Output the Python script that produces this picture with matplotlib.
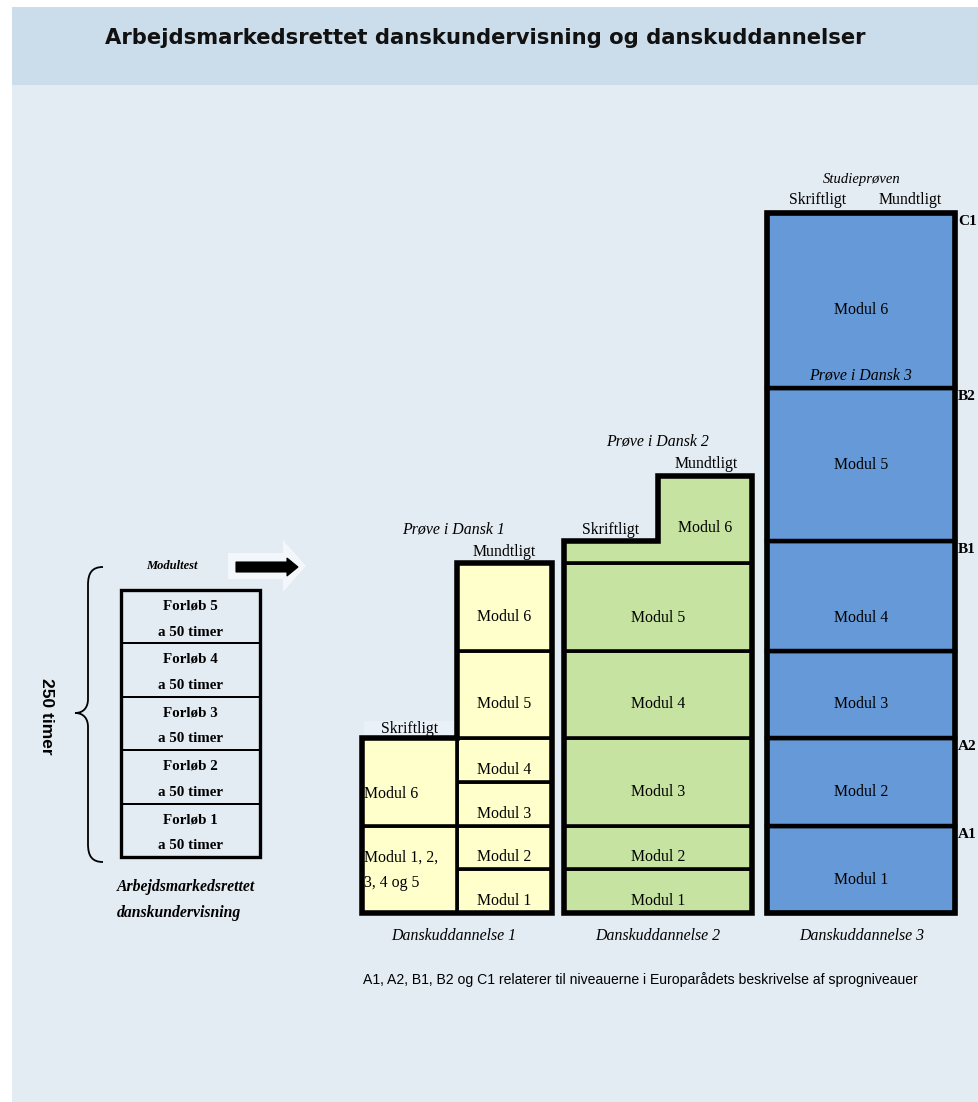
import matplotlib
matplotlib.use("Agg")
import matplotlib.pyplot as plt
from matplotlib.patches import Rectangle, Polygon, PathPatch
from matplotlib.path import Path
import numpy as np

# ---------------- data ----------------
title = "Arbejdsmarkedsrettet danskundervisning og danskuddannelser"

forlob_labels = ["Forløb 1", "Forløb 2", "Forløb 3", "Forløb 4", "Forløb 5"]
forlob_hours = [50, 50, 50, 50, 50]
forlob_total_label = "250 timer"
forlob_caption = "Arbejdsmarkedsrettet\ndanskundervisning"
forlob_test = "Modultest"

du_names = ["Danskuddannelse 1", "Danskuddannelse 2", "Danskuddannelse 3"]

# DU1: oral column (Mundtligt) and written column (Skriftligt), heights in half-module units
du1_oral_modules = ["Modul 1", "Modul 2", "Modul 3", "Modul 4", "Modul 5", "Modul 6"]
du1_oral_units = [1, 1, 1, 1, 2, 2]
du1_written_modules = ["Modul 1, 2,\n3, 4 og 5", "Modul 6"]
du1_written_units = [2, 2]

# DU2
du2_modules = ["Modul 1", "Modul 2", "Modul 3", "Modul 4", "Modul 5"]
du2_units = [1, 1, 2, 2, 2]
du2_m6_label = "Modul 6"
du2_m6_written_units = 0.5
du2_m6_oral_units = 2

# DU3
du3_modules = ["Modul 1", "Modul 2", "Modul 3", "Modul 4", "Modul 5", "Modul 6"]
du3_units = [2, 2, 2, 2.5, 3.5, 4]
cefr_levels = ["A1", "A2", "B1", "B2", "C1"]
cefr_top_of_module = [1, 2, 4, 5, 6]   # level reached at top of DU3 module n

exam_titles = ["Prøve i Dansk 1", "Prøve i Dansk 2", "Studieprøven"]
exam_parts = ["Skriftligt", "Mundtligt"]
du3_m6_exam = "Prøve i Dansk 3"
footnote = "A1, A2, B1, B2 og C1 relaterer til niveauerne i Europarådets beskrivelse af sprogniveauer"

# ---------------- styling / layout ----------------
W, H = 979, 1102
BG_TITLE = "#cbdcea"
BG_BODY = "#e3ebf3"
YELLOW = "#ffffcc"
GREEN = "#c6e3a2"
BLUE = "#6699d8"
SERIF = "Liberation Serif"
SANS = "Liberation Sans"
FS = 11.4

BASE = 913.0     # baseline (pixel y)
UNIT = 43.75     # pixels per half-module unit

fig = plt.figure(figsize=(W / 100, H / 100), dpi=100)
ax = fig.add_axes([0, 0, 1, 1])
ax.set_xlim(0, W)
ax.set_ylim(H, 0)
ax.axis("off")

# backgrounds
ax.add_patch(Rectangle((0, 0), W, H, facecolor="white", edgecolor="none", zorder=0))
ax.add_patch(Rectangle((12, 7), W - 12, 78, facecolor=BG_TITLE, edgecolor="none", zorder=0))
ax.add_patch(Rectangle((12, 85), W - 12, H - 85, facecolor=BG_BODY, edgecolor="none", zorder=0))

ax.text(485, 38, title, ha="center", va="center", fontsize=15.2, fontweight="bold",
        family="DejaVu Sans", color="#111111")


def ypix(u):
    return BASE - u * UNIT


def draw_column(x0, x1, units, labels, color, offsets, u0=0.0, lw=2.6, fs=FS):
    cum = u0
    for u, lab, off in zip(units, labels, offsets):
        top, bot = ypix(cum + u), ypix(cum)
        ax.add_patch(Rectangle((x0, top), x1 - x0, bot - top, facecolor=color,
                               edgecolor="black", lw=lw, zorder=2))
        if lab is not None:
            ax.text((x0 + x1) / 2, (top + bot) / 2 + off, lab, ha="center", va="center",
                    fontsize=fs, family=SERIF, zorder=4)
        cum += u
    return cum


# ---------- Danskuddannelse 1 ----------
d1_l0, d1_mid, d1_r1 = 362, 457, 552
oral_top = draw_column(d1_mid, d1_r1, du1_oral_units, du1_oral_modules, YELLOW,
                       [10, 10, 10, 10, 10, 10])
cum = 0
for u, lab, off in zip(du1_written_units, du1_written_modules, [1, 12]):
    top, bot = ypix(cum + u), ypix(cum)
    ax.add_patch(Rectangle((d1_l0, top), d1_mid - d1_l0, bot - top, facecolor=YELLOW,
                           edgecolor="black", lw=2.6, zorder=2))
    ax.text(d1_l0 + 2, (top + bot) / 2 + off, lab, ha="left", va="center",
            fontsize=FS, family=SERIF, linespacing=1.8, zorder=4)
    cum += u
written_top = cum
# outer outline of DU1
outline1 = [(d1_l0, BASE), (d1_l0, ypix(written_top)), (d1_mid, ypix(written_top)),
            (d1_mid, ypix(oral_top)), (d1_r1, ypix(oral_top)), (d1_r1, BASE)]
ax.add_patch(Polygon(outline1, closed=True, fill=False, edgecolor="black", lw=4, zorder=3))
ax.add_patch(Rectangle((d1_l0 + 2, ypix(written_top) - 17), d1_mid - d1_l0 - 4, 15,
                       facecolor="#eaf0f7", edgecolor="none", zorder=1))
ax.text((d1_l0 + d1_mid) / 2, ypix(written_top) - 9, exam_parts[0], ha="center", va="center",
        fontsize=FS, family=SERIF)
ax.text((d1_mid + d1_r1) / 2, ypix(oral_top) - 11, exam_parts[1], ha="center", va="center",
        fontsize=FS, family=SERIF)
ax.text(454, 529, exam_titles[0], ha="center", va="center", fontsize=FS, style="italic",
        family=SERIF)
ax.text(454, 936, du_names[0], ha="center", va="center", fontsize=FS, style="italic",
        family=SERIF)

# ---------- Danskuddannelse 2 ----------
d2_l, d2_step, d2_r = 564, 658, 752
base_top = draw_column(d2_l, d2_r, du2_units, du2_modules, GREEN, [10, 10, 10, 10, 11])
w_top = ypix(base_top + du2_m6_written_units)
o_top = ypix(base_top + du2_m6_oral_units)
m6_shape = [(d2_l, ypix(base_top)), (d2_l, w_top), (d2_step, w_top), (d2_step, o_top),
            (d2_r, o_top), (d2_r, ypix(base_top))]
ax.add_patch(Polygon(m6_shape, closed=True, facecolor=GREEN, edgecolor="black", lw=2.6, zorder=2))
ax.text((d2_step + d2_r) / 2, (o_top + ypix(base_top)) / 2 + 9, du2_m6_label, ha="center",
        va="center", fontsize=FS, family=SERIF, zorder=4)
outline2 = [(d2_l, BASE), (d2_l, w_top), (d2_step, w_top), (d2_step, o_top), (d2_r, o_top),
            (d2_r, BASE)]
ax.add_patch(Polygon(outline2, closed=True, fill=False, edgecolor="black", lw=4, zorder=3))
ax.text(611, w_top - 11, exam_parts[0], ha="center", va="center", fontsize=FS, family=SERIF)
ax.text(706, o_top - 11, exam_parts[1], ha="center", va="center", fontsize=FS, family=SERIF)
ax.text(658, 442, exam_titles[1], ha="center", va="center", fontsize=FS, style="italic",
        family=SERIF)
ax.text(658, 936, du_names[1], ha="center", va="center", fontsize=FS, style="italic",
        family=SERIF)

# ---------- Danskuddannelse 3 ----------
d3_l, d3_r = 767, 955
d3_top = draw_column(d3_l, d3_r, du3_units, du3_modules, BLUE, [11, 10, 10, 22, 0, 10],
                     lw=3.2)
ax.add_patch(Rectangle((d3_l, ypix(d3_top)), d3_r - d3_l, BASE - ypix(d3_top), fill=False,
                       edgecolor="black", lw=4, zorder=3))
cum_units = np.cumsum(du3_units)
for lev, m in zip(cefr_levels, cefr_top_of_module):
    ax.text(d3_r + 3, ypix(cum_units[m - 1]) + 2, lev, ha="left", va="top", fontsize=11,
            fontweight="bold", family=SERIF)
ax.text((d3_l + d3_r) / 2, ypix(cum_units[4]) - 13, du3_m6_exam, ha="center", va="center",
        fontsize=FS, style="italic", family=SERIF, zorder=4)
ax.text(862, 179, exam_titles[2], ha="center", va="center", fontsize=10.5, style="italic",
        family=SERIF)
ax.text(818, 200, exam_parts[0], ha="center", va="center", fontsize=FS, family=SERIF)
ax.text(910, 200, exam_parts[1], ha="center", va="center", fontsize=FS, family=SERIF)
ax.text(862, 936, du_names[2], ha="center", va="center", fontsize=FS, style="italic",
        family=SERIF)

# ---------- Forløb stack ----------
f_l, f_r, f_top, f_bot = 121, 260, 590, 857
px_per_hour = (f_bot - f_top) / sum(forlob_hours)
cum = 0
for lab, hrs in zip(forlob_labels, forlob_hours):
    bot = f_bot - cum * px_per_hour
    top = f_bot - (cum + hrs) * px_per_hour
    ax.add_patch(Rectangle((f_l, top), f_r - f_l, bot - top, facecolor="none",
                           edgecolor="black", lw=1.4, zorder=2))
    ax.text((f_l + f_r) / 2, top + 16, lab, ha="center", va="center", fontsize=10.8,
            fontweight="bold", family=SERIF)
    ax.text((f_l + f_r) / 2, top + 42, f"a {hrs} timer", ha="center", va="center",
            fontsize=10.8, fontweight="bold", family=SERIF)
    cum += hrs
ax.add_patch(Rectangle((f_l, f_top), f_r - f_l, f_bot - f_top, fill=False, edgecolor="black",
                       lw=2.4, zorder=3))
ax.text(117, 887, forlob_caption.split("\n")[0], ha="left", va="center", fontsize=11.3,
        fontweight="bold", style="italic", family=SERIF)
ax.text(117, 913, forlob_caption.split("\n")[1], ha="left", va="center", fontsize=11.3,
        fontweight="bold", style="italic", family=SERIF)
ax.text(172, 566, forlob_test, ha="center", va="center", fontsize=9, fontweight="bold",
        style="italic", family=SERIF)

# brace
bx, by0, by1, bmid = 88, 567, 862, 713
verts = [(103, by0), (92, by0), (bx, by0 + 6), (bx, by0 + 18),
         (bx, bmid - 14),
         (bx, bmid - 6), (84, bmid), (75, bmid),
         (84, bmid), (bx, bmid + 6), (bx, bmid + 14),
         (bx, by1 - 18),
         (bx, by1 - 6), (92, by1), (103, by1)]
codes = [Path.MOVETO, Path.CURVE4, Path.CURVE4, Path.CURVE4,
         Path.LINETO,
         Path.CURVE4, Path.CURVE4, Path.CURVE4,
         Path.CURVE4, Path.CURVE4, Path.CURVE4,
         Path.LINETO,
         Path.CURVE4, Path.CURVE4, Path.CURVE4]
ax.add_patch(PathPatch(Path(verts, codes), fill=False, edgecolor="black", lw=1.3))
ax.text(46, 716, forlob_total_label, ha="center", va="center", rotation=-90, fontsize=12.5,
        fontweight="bold", family=SANS)

# arrows
light_arrow = [(228, 553), (283, 553), (283, 540), (306, 566), (283, 592), (283, 579), (228, 579)]
ax.add_patch(Polygon(light_arrow, closed=True, facecolor="#f3f6fa", edgecolor="none", zorder=1))
dark_arrow = [(236, 562), (287, 562), (287, 558), (298, 567), (287, 576), (287, 572), (236, 572)]
ax.add_patch(Polygon(dark_arrow, closed=True, facecolor="black", edgecolor="black", lw=0.8,
                     zorder=2))

# footnote
ax.text(363, 980, footnote, ha="left", va="center", fontsize=10.1, family=SANS)

fig.savefig("out.png", dpi=100)
